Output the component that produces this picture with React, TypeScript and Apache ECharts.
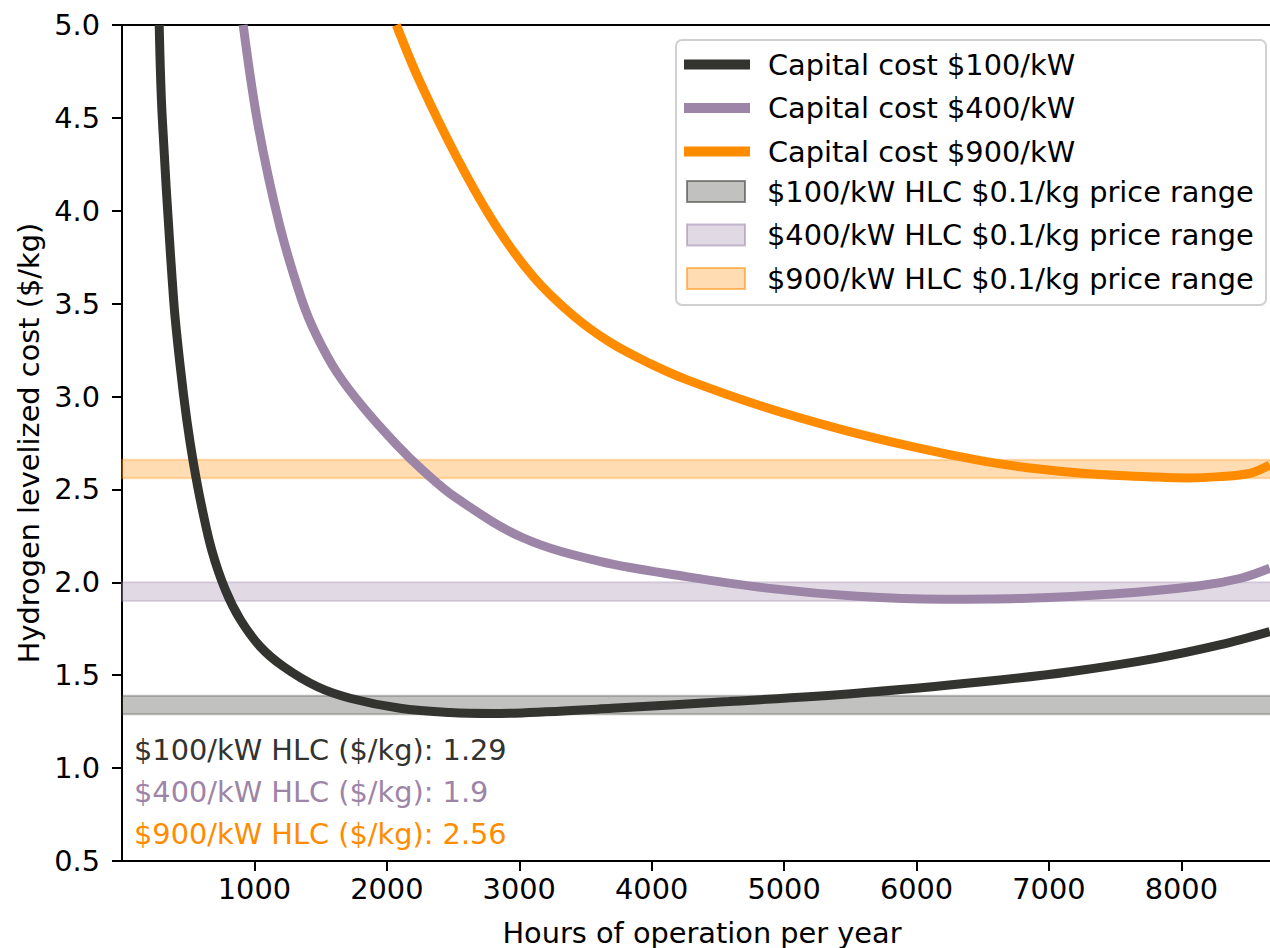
import React, { useEffect, useRef } from "react";
import * as echarts from "echarts";

const FONT = "DejaVu Sans";
const FS = 28.8;

// Capital cost $100/kW curve (hours/year, $/kg)
const hours100 = [281, 304, 390, 440, 490, 540, 604, 679, 780, 893, 1044, 1220, 1472, 1723, 2100, 2478, 2800, 3200, 3700, 4582, 5549, 6516, 7160, 7806, 8289, 8668];
const cost100 = [5.0, 4.5, 3.52, 3.16, 2.87, 2.64, 2.4, 2.17, 1.96, 1.8, 1.654, 1.546, 1.439, 1.376, 1.322, 1.299, 1.294, 1.303, 1.322, 1.358, 1.403, 1.466, 1.519, 1.591, 1.663, 1.735];

// Capital cost $400/kW curve
const hours400 = [915, 1028, 1191, 1358, 1468, 1623, 1824, 2075, 2276, 2523, 3027, 3617, 4262, 4907, 5552, 6193, 6838, 7482, 8126, 8449, 8668];
const cost400 = [5.0, 4.46, 3.92, 3.52, 3.33, 3.13, 2.94, 2.74, 2.6, 2.455, 2.24, 2.111, 2.031, 1.966, 1.925, 1.909, 1.914, 1.937, 1.98, 2.022, 2.076];

// Capital cost $900/kW curve
const hours900 = [2072, 2246, 2534, 2823, 3112, 3401, 3690, 3980, 4268, 4845, 5423, 6001, 6485, 6838, 7300, 7805, 8050, 8289, 8515, 8668];
const cost900 = [5.0, 4.7, 4.28, 3.92, 3.64, 3.44, 3.29, 3.18, 3.09, 2.945, 2.825, 2.725, 2.655, 2.617, 2.585, 2.567, 2.562, 2.569, 2.587, 2.632];

const capitalCosts = [100, 400, 900];
const hlcValues = [1.29, 1.9, 2.56];
const priceRange = 0.1;

const lineColors = ["#333330", "#9d85a8", "#ff8c00"];
const bandRgb = ["51,51,48", "157,133,168", "255,140,0"];

const xTicks = [1000, 2000, 3000, 4000, 5000, 6000, 7000, 8000];

const zip = (xs: number[], ys: number[]) => xs.map((x, i) => [x, ys[i]]);
const curves = [zip(hours100, cost100), zip(hours400, cost400), zip(hours900, cost900)];

export default function App() {
  const ref = useRef<HTMLDivElement>(null);

  useEffect(() => {
    document.body.style.margin = "0";
    if (!ref.current) return;
    const chart = echarts.init(ref.current, null, { renderer: "svg" });

    const lineNames = capitalCosts.map((c) => `Capital cost $${c}/kW`);
    const bandNames = capitalCosts.map((c) => `$${c}/kW HLC $${priceRange}/kg price range`);

    const lineSeries = curves.map((d, i) => ({
      type: "line",
      name: lineNames[i],
      data: d,
      symbol: "none",
      showSymbol: false,
      smooth: 0.35,
      lineStyle: { color: lineColors[i], width: 9 },
      itemStyle: { color: lineColors[i] },
      z: 3,
    }));

    const bandSeries = hlcValues.map((v, i) => ({
      type: "line",
      name: bandNames[i],
      data: [],
      itemStyle: { color: `rgba(${bandRgb[i]},0.3)` },
      z: 1,
      markArea: {
        silent: true,
        itemStyle: {
          color: `rgba(${bandRgb[i]},0.3)`,
          borderColor: `rgba(${bandRgb[i]},0.3)`,
          borderWidth: 2,
        },
        data: [[{ yAxis: v }, { yAxis: +(v + priceRange).toFixed(2) }]],
      },
    }));

    const option: any = {
      animation: false,
      textStyle: { fontFamily: FONT },
      grid: {
        left: 122,
        top: 25,
        right: -12,
        bottom: 87,
        outerBoundsMode: "none",
        containLabel: false,
        show: true,
        borderColor: "#000",
        borderWidth: 2,
        backgroundColor: "transparent",
      },
      xAxis: {
        type: "value",
        min: 0,
        max: 8760,
        interval: 1000,
        splitLine: { show: false },
        axisLine: { show: true, lineStyle: { color: "#000", width: 2 } },
        axisTick: { show: true, length: 10, customValues: xTicks, lineStyle: { color: "#000", width: 2 } },
        axisLabel: {
          customValues: xTicks,
          fontSize: FS,
          color: "#000",
          fontFamily: FONT,
          margin: 13,
          formatter: (v: number) => String(v),
        },
        name: "Hours of operation per year",
        nameLocation: "middle",
        nameGap: 57,
        nameTextStyle: { fontSize: FS, color: "#000", fontFamily: FONT },
      },
      yAxis: {
        type: "value",
        min: 0.5,
        max: 5,
        interval: 0.5,
        splitLine: { show: false },
        axisLine: { show: true, lineStyle: { color: "#000", width: 2 } },
        axisTick: { show: true, length: 10, lineStyle: { color: "#000", width: 2 } },
        axisLabel: {
          fontSize: FS,
          color: "#000",
          fontFamily: FONT,
          margin: 22,
          formatter: (v: number) => v.toFixed(1),
        },
        name: "Hydrogen levelized cost ($/kg)",
        nameLocation: "middle",
        nameGap: 77,
        nameRotate: 90,
        nameTextStyle: { fontSize: FS, color: "#000", fontFamily: FONT },
      },
      legend: [
        {
          data: lineNames.map((n) => ({ name: n })),
          orient: "vertical",
          left: 679,
          top: 45,
          itemWidth: 66,
          itemHeight: 10,
          itemGap: 14.5,
          icon: "rect",
          selectedMode: false,
          z: 5,
          textStyle: { fontSize: FS, color: "#000", fontFamily: FONT, lineHeight: 28, padding: [0, 0, 0, 13] },
        },
        {
          data: bandNames.map((n, i) => ({
            name: n,
            itemStyle: {
              color: `rgba(${bandRgb[i]},0.3)`,
              borderColor: `rgba(${bandRgb[i]},0.55)`,
              borderWidth: 2,
            },
          })),
          orient: "vertical",
          left: 681,
          top: 172,
          itemWidth: 58,
          itemHeight: 21,
          itemGap: 14.5,
          icon: "rect",
          selectedMode: false,
          z: 5,
          textStyle: { fontSize: FS, color: "#000", fontFamily: FONT, lineHeight: 28, padding: [0, 0, 0, 17] },
        },
      ],
      graphic: [
        {
          type: "rect",
          z: 4,
          shape: { x: 676, y: 40, width: 590, height: 265, r: 6 },
          style: { fill: "rgba(255,255,255,0.85)", stroke: "#d0d0d0", lineWidth: 2 },
        },
        ...capitalCosts.map((c, i) => ({
          type: "text",
          z: 5,
          x: 134,
          y: 750 + i * 42,
          style: {
            text: `$${c}/kW HLC ($/kg): ${hlcValues[i]}`,
            fontSize: FS,
            fontFamily: FONT,
            fill: lineColors[i],
            verticalAlign: "middle",
          },
        })),
      ],
      series: [...bandSeries, ...lineSeries],
    };

    chart.setOption(option);
    return () => chart.dispose();
  }, []);

  return <div ref={ref} style={{ width: 1270, height: 948 }} />;
}
